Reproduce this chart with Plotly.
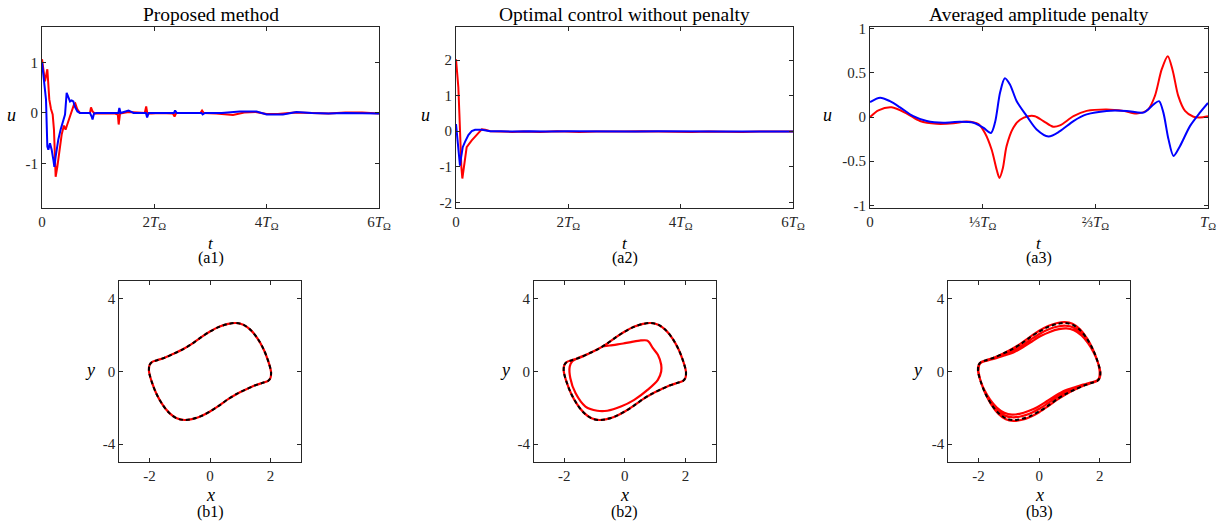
import plotly.graph_objects as go

W, H = 1225, 527
FONT = "Liberation Serif, DejaVu Serif, serif"
AX = "#262626"

# ---------------- data ----------------
# (a1) Proposed method, t in units of T_Omega
a1_red_t = [0.00, 0.053, 0.095, 0.13, 0.16, 0.19, 0.213, 0.231, 0.243, 0.273, 0.309, 0.35, 0.39, 0.42, 0.45,
            0.486, 0.528, 0.57, 0.593, 0.63, 0.676, 0.80, 0.855, 0.872, 0.90, 0.94, 1.10, 1.30, 1.35, 1.365,
            1.39, 1.54, 1.70, 1.83, 1.855, 1.875, 1.95, 2.10, 2.33, 2.36, 2.39, 2.60, 2.82, 2.85, 2.88, 3.10,
            3.40, 3.60, 3.80, 4.00, 4.20, 4.50, 4.80, 5.10, 5.40, 5.70, 6.00]
a1_red_u = [1.07, 0.63, 0.87, 0.27, 0.08, -0.03, -0.33, -0.93, -1.27, -1.07, -0.73, -0.43, -0.25, -0.33, -0.23,
            -0.12, 0.00, 0.17, 0.19, 0.07, 0.00, 0.00, 0.00, 0.11, 0.03, -0.01, -0.01, -0.01, -0.03, -0.23,
            -0.01, 0.02, 0.01, 0.00, 0.13, -0.01, -0.01, 0.00, -0.01, -0.07, 0.00, 0.00, 0.00, 0.05, 0.00, -0.01,
            -0.04, 0.01, 0.02, -0.02, -0.02, 0.01, 0.00, -0.01, 0.01, 0.01, -0.01]
a1_blue_t = [0.00, 0.036, 0.071, 0.095, 0.113, 0.142, 0.172, 0.202, 0.22, 0.243, 0.29, 0.332, 0.38, 0.41, 0.439,
             0.469, 0.499, 0.528, 0.558, 0.587, 0.63, 0.676, 0.855, 0.884, 0.90, 0.926, 0.973, 1.20, 1.36, 1.377,
             1.40, 1.54, 1.63, 1.85, 1.872, 1.90, 2.10, 2.35, 2.37, 2.40, 2.60, 2.84, 2.86, 2.90, 3.20, 3.52,
             3.82, 4.00, 4.29, 4.53, 4.80, 5.10, 5.40, 5.70, 6.00]
a1_blue_u = [1.01, 0.67, 0.27, -0.67, -0.73, -0.60, -0.73, -0.93, -1.07, -0.87, -0.53, -0.33, -0.17, -0.03, 0.40,
             0.33, 0.23, 0.25, 0.23, 0.12, 0.03, 0.00, 0.00, -0.07, -0.13, -0.01, 0.00, 0.00, 0.00, 0.10,
             0.00, 0.05, 0.00, 0.00, -0.09, 0.00, 0.00, 0.00, 0.05, 0.00, 0.00, 0.00, -0.03, 0.00, 0.00, 0.03,
             0.03, -0.03, -0.03, 0.02, 0.00, -0.01, 0.00, -0.01, -0.01]

# (a2) Optimal control without penalty
a2_red_t = [0.00, 0.042, 0.06, 0.075, 0.095, 0.113, 0.13, 0.16, 0.19, 0.28, 0.37, 0.43, 0.46, 0.52, 0.61, 0.80,
            1.00, 1.20, 1.50, 1.80, 2.00, 2.20, 2.50, 2.80, 3.00, 3.30, 3.60, 3.90, 4.20, 4.50, 4.80, 5.10,
            5.40, 5.70, 6.00]
a2_red_u = [2.02, 1.23, 0.50, -0.30, -1.00, -1.33, -1.15, -0.75, -0.45, -0.26, -0.12, 0.00, 0.05, 0.04, 0.00,
            -0.01, -0.02, -0.01, -0.02, 0.00, -0.01, -0.02, -0.01, -0.02, -0.01, 0.00, -0.01, -0.01, -0.02,
            -0.01, -0.02, -0.02, -0.01, 0.00, -0.01]
a2_blue_t = [0.00, 0.03, 0.06, 0.071, 0.085, 0.12, 0.16, 0.22, 0.28, 0.34, 0.46, 0.61, 0.80, 1.00, 1.30, 1.60,
             2.00, 2.40, 2.80, 3.20, 3.60, 4.00, 4.40, 4.80, 5.20, 5.60, 6.00]
a2_blue_u = [0.20, -0.40, -0.90, -0.97, -0.80, -0.45, -0.30, -0.11, 0.00, 0.04, 0.04, 0.00, 0.00, -0.01, 0.00,
             -0.01, 0.00, -0.01, 0.00, -0.01, 0.00, -0.01, 0.00, -0.01, -0.01, 0.00, -0.01]

# (a3) Averaged amplitude penalty, t as fraction of T_Omega
a3_red_t = [0.000, 0.025, 0.064, 0.109, 0.148, 0.197, 0.247, 0.286, 0.321, 0.340, 0.360, 0.375, 0.383, 0.393,
            0.404, 0.424, 0.444, 0.468, 0.488, 0.513, 0.542, 0.562, 0.602, 0.641, 0.700, 0.750, 0.789, 0.823,
            0.843, 0.863, 0.881, 0.896, 0.912, 0.932, 0.957, 0.976, 1.000]
a3_red_u = [0.00, 0.076, 0.11, 0.04, -0.045, -0.076, -0.07, -0.05, -0.08, -0.18, -0.37, -0.60, -0.69, -0.58,
            -0.33, -0.12, -0.03, 0.01, 0.01, -0.045, -0.11, -0.095, 0.01, 0.07, 0.087, 0.07, 0.04, 0.087,
            0.24, 0.54, 0.69, 0.52, 0.24, 0.07, 0.004, -0.004, 0.01]
a3_blue_t = [0.000, 0.030, 0.059, 0.089, 0.128, 0.168, 0.217, 0.266, 0.306, 0.335, 0.358, 0.370, 0.385, 0.399,
             0.414, 0.434, 0.464, 0.493, 0.528, 0.562, 0.602, 0.641, 0.700, 0.759, 0.809, 0.838, 0.855, 0.868,
             0.883, 0.898, 0.917, 0.947, 0.976, 1.000]
a3_blue_u = [0.17, 0.22, 0.18, 0.11, 0.01, -0.045, -0.064, -0.053, -0.064, -0.12, -0.18, -0.06, 0.28, 0.44,
             0.37, 0.18, 0.01, -0.14, -0.22, -0.16, -0.045, 0.03, 0.07, 0.07, 0.05, 0.14, 0.18, 0.05, -0.25,
             -0.44, -0.33, -0.10, 0.05, 0.16]

# limit cycle (black dashed reference)
cyc_x = [-2.02, -2.00, -1.92, -1.75, -1.50, -1.20, -0.90, -0.60, -0.30, 0.00, 0.30, 0.60, 0.85, 1.10, 1.35, 1.58,
         1.78, 1.92, 2.00, 2.02, 2.00, 1.92, 1.75, 1.50, 1.20, 0.90, 0.60, 0.30, 0.00, -0.30, -0.60, -0.85, -1.10,
         -1.35, -1.58, -1.78, -1.92, -2.00, -2.02]
cyc_y = [0.05, 0.35, 0.52, 0.62, 0.76, 0.98, 1.22, 1.52, 1.88, 2.20, 2.46, 2.62, 2.67, 2.58, 2.28, 1.80, 1.20,
         0.60, 0.15, -0.05, -0.35, -0.52, -0.62, -0.76, -0.98, -1.22, -1.52, -1.88, -2.20, -2.46, -2.62, -2.67,
         -2.58, -2.28, -1.80, -1.20, -0.60, -0.15, 0.05]

# (b1) controlled trajectory (stays on the cycle)
b1_x = [-2.02, -2.00, -1.92, -1.75, -1.50, -1.20, -0.90, -0.60, -0.30, 0.00, 0.30, 0.60, 0.85, 1.10, 1.35, 1.58,
        1.78, 1.92, 2.00, 2.02, 2.00, 1.92, 1.75, 1.50, 1.20, 0.90, 0.60, 0.30, 0.00, -0.30, -0.60, -0.85, -1.10,
        -1.35, -1.58, -1.78, -1.92, -2.00, -2.02]
b1_y = [0.05, 0.35, 0.52, 0.62, 0.76, 0.98, 1.22, 1.52, 1.88, 2.20, 2.46, 2.62, 2.67, 2.58, 2.28, 1.80, 1.20,
        0.60, 0.15, -0.05, -0.35, -0.52, -0.62, -0.76, -0.98, -1.22, -1.52, -1.88, -2.20, -2.46, -2.62, -2.67,
        -2.58, -2.28, -1.80, -1.20, -0.60, -0.15, 0.05]

# (b2) controlled trajectory: inner excursion, then back on the cycle
b2_x = [-0.74, -0.50, -0.24, 0.00, 0.20, 0.53, 0.73, 0.81, 0.92, 1.09, 1.20, 1.20, 1.09, 0.76, 0.31, -0.13,
        -0.58, -0.91, -1.30, -1.63, -1.80, -1.82, -1.74, -1.47, -1.20, -0.90, -0.60, -0.30, 0.00, 0.30, 0.60,
        0.85, 1.10, 1.35, 1.58, 1.78, 1.92, 2.00, 2.02, 2.00, 1.92, 1.75, 1.50, 1.20, 0.90, 0.60, 0.30, 0.00,
        -0.30, -0.60, -0.85, -1.10, -1.35, -1.58, -1.78, -1.92, -2.00, -2.02, -2.00, -1.92, -1.75, -1.50,
        -1.20, -0.90]
b2_y = [1.38, 1.43, 1.49, 1.56, 1.62, 1.71, 1.71, 1.60, 1.30, 0.92, 0.37, 0.00, -0.46, -1.00, -1.56, -1.93,
        -2.16, -2.16, -1.93, -1.19, -0.37, 0.28, 0.55, 0.80, 0.98, 1.22, 1.52, 1.88, 2.20, 2.46, 2.62, 2.67,
        2.58, 2.28, 1.80, 1.20, 0.60, 0.15, -0.05, -0.35, -0.52, -0.62, -0.76, -0.98, -1.22, -1.52, -1.88,
        -2.20, -2.46, -2.62, -2.67, -2.58, -2.28, -1.80, -1.20, -0.60, -0.15, 0.05, 0.35, 0.52, 0.62, 0.76,
        0.98, 1.22]

# (b3) controlled trajectory: several loops of slightly different size
b3_x = [-2.00, -1.98, -1.90, -1.72, -1.45, -1.15, -0.85, -0.55, -0.25, 0.05, 0.35, 0.65, 0.90, 1.15, 1.40, 1.62,
        1.80, 1.93, 1.99, 2.00, 1.98, 1.90, 1.72, 1.45, 1.15, 0.85, 0.55, 0.25, -0.05, -0.35, -0.65, -0.90,
        -1.15, -1.40, -1.62, -1.80, -1.93, -1.99,
        -2.01, -1.99, -1.91, -1.74, -1.48, -1.18, -0.88, -0.58, -0.28, 0.02, 0.32, 0.62, 0.88, 1.13, 1.38, 1.60,
        1.79, 1.92, 2.00, 2.01, 1.99, 1.91, 1.74, 1.48, 1.18, 0.88, 0.58, 0.28, -0.02, -0.32, -0.62, -0.88,
        -1.13, -1.38, -1.60, -1.79, -1.92, -2.00,
        -2.02, -2.00, -1.92, -1.75, -1.50, -1.20, -0.90, -0.60, -0.30, 0.00, 0.30, 0.60, 0.85, 1.10, 1.35, 1.58,
        1.78, 1.92, 2.00, 2.02, 2.00, 1.92, 1.75, 1.50, 1.20, 0.90, 0.60, 0.30, 0.00, -0.30, -0.60, -0.85,
        -1.10, -1.35, -1.58, -1.78, -1.92, -2.00, -2.02]
b3_y = [0.05, 0.35, 0.50, 0.60, 0.72, 0.88, 1.05, 1.32, 1.64, 1.95, 2.18, 2.33, 2.37, 2.27, 1.98, 1.55,
        1.05, 0.55, 0.12, -0.05, -0.35, -0.50, -0.60, -0.72, -0.88, -1.05, -1.32, -1.64, -1.95, -2.18, -2.33,
        -2.37, -2.27, -1.98, -1.55, -1.05, -0.55, -0.12,
        0.05, 0.35, 0.51, 0.61, 0.74, 0.93, 1.14, 1.42, 1.76, 2.08, 2.33, 2.48, 2.52, 2.43, 2.14, 1.68,
        1.12, 0.58, 0.13, -0.05, -0.35, -0.51, -0.61, -0.74, -0.93, -1.14, -1.42, -1.76, -2.08, -2.33, -2.48,
        -2.52, -2.43, -2.14, -1.68, -1.12, -0.58, -0.13,
        0.05, 0.35, 0.52, 0.62, 0.76, 0.98, 1.24, 1.55, 1.91, 2.24, 2.50, 2.67, 2.72, 2.63, 2.32, 1.82,
        1.20, 0.60, 0.15, -0.05, -0.35, -0.52, -0.62, -0.76, -0.98, -1.24, -1.55, -1.91, -2.24, -2.50, -2.67,
        -2.72, -2.63, -2.32, -1.82, -1.20, -0.60, -0.15, 0.05]

# tick labels
tick_T6_vals = [0, 2, 4, 6]
tick_T6_text = ["0", "2<i>T</i><sub>Ω</sub>", "4<i>T</i><sub>Ω</sub>", "6<i>T</i><sub>Ω</sub>"]
tick_T1_vals = [0, 1 / 3, 2 / 3, 1]
tick_T1_text = ["0", "⅓<i>T</i><sub>Ω</sub>", "⅔<i>T</i><sub>Ω</sub>", "<i>T</i><sub>Ω</sub>"]
a1_yt = [-1, 0, 1]
a2_yt = [-2, -1, 0, 1, 2]
a3_yt = [-1, -0.5, 0, 0.5, 1]
b_xt = [-2, 0, 2]
b_yt = [-4, 0, 4]

titles = ["Proposed method", "Optimal control without penalty", "Averaged amplitude penalty"]
top_tags = ["(a1)", "(a2)", "(a3)"]
bot_tags = ["(b1)", "(b2)", "(b3)"]


def lab(v):
    return "%g" % v


# ---------------- layout geometry (screen pixels) ----------------
top_box = [(42, 379), (456, 793), (870, 1208)]
top_y = (27, 208)
bot_box = [(119.3, 300.7), (534, 715.7), (948.3, 1130)]
bot_y = (280.7, 462.3)


def px2x(p):
    return p / W


def px2y(p):
    return 1 - p / H


def xd(a, b):
    return [px2x(a), px2x(b)]


def yd(t, b):
    return [px2y(b), px2y(t)]


fig = go.Figure()

RED = "#FF0000"
BLUE = "#0000FF"

top_data = [
    (a1_red_t, a1_red_u, a1_blue_t, a1_blue_u, "linear"),
    (a2_red_t, a2_red_u, a2_blue_t, a2_blue_u, "linear"),
    (a3_red_t, a3_red_u, a3_blue_t, a3_blue_u, "spline"),
]
for i, (rt, ru, bt, bu, shp) in enumerate(top_data):
    xa = "x" if i == 0 else "x%d" % (i + 1)
    ya = "y" if i == 0 else "y%d" % (i + 1)
    fig.add_trace(go.Scatter(x=rt, y=ru, mode="lines", xaxis=xa, yaxis=ya,
                             line=dict(color=RED, width=2, shape=shp, smoothing=0.8), showlegend=False))
    fig.add_trace(go.Scatter(x=bt, y=bu, mode="lines", xaxis=xa, yaxis=ya,
                             line=dict(color=BLUE, width=2, shape=shp, smoothing=0.8), showlegend=False))

bot_red = [(b1_x, b1_y), (b2_x, b2_y), (b3_x, b3_y)]
for i, (bx, by) in enumerate(bot_red):
    xa = "x%d" % (i + 4)
    ya = "y%d" % (i + 4)
    fig.add_trace(go.Scatter(x=bx, y=by, mode="lines", xaxis=xa, yaxis=ya,
                             line=dict(color=RED, width=2.2, shape="spline", smoothing=0.9), showlegend=False))
    fig.add_trace(go.Scatter(x=cyc_x, y=cyc_y, mode="lines", xaxis=xa, yaxis=ya,
                             line=dict(color="black", width=2, dash="4px,3px", shape="spline", smoothing=0.9),
                             showlegend=False))


def axis(dom, rng, tv, tt, anchor):
    return dict(domain=dom, range=rng, tickvals=tv, ticktext=tt, anchor=anchor,
                showline=True, linecolor=AX, linewidth=1, mirror="allticks",
                ticks="inside", ticklen=4, tickcolor=AX, tickwidth=1,
                showgrid=False, zeroline=False, fixedrange=True, automargin=False,
                tickfont=dict(family=FONT, size=15, color=AX))


layout = dict(width=W, height=H, margin=dict(l=0, r=0, t=0, b=0, autoexpand=False),
              paper_bgcolor="white", plot_bgcolor="white", showlegend=False, hovermode=False)

yranges = [[-1.89, 1.71], [-2.16, 2.93], [-1.03, 1.02]]
yticks = [a1_yt, a2_yt, a3_yt]
for i in range(3):
    xk = "xaxis" if i == 0 else "xaxis%d" % (i + 1)
    yk = "yaxis" if i == 0 else "yaxis%d" % (i + 1)
    xn = "x" if i == 0 else "x%d" % (i + 1)
    yn = "y" if i == 0 else "y%d" % (i + 1)
    if i < 2:
        layout[xk] = axis(xd(*top_box[i]), [0, 6], tick_T6_vals, tick_T6_text, yn)
    else:
        layout[xk] = axis(xd(*top_box[i]), [0, 1], tick_T1_vals, tick_T1_text, yn)
    layout[yk] = axis(yd(*top_y), yranges[i], yticks[i], [lab(v) for v in yticks[i]], xn)

for i in range(3):
    k = i + 4
    layout["xaxis%d" % k] = axis(xd(*bot_box[i]), [-3, 3], b_xt, [lab(v) for v in b_xt], "y%d" % k)
    layout["yaxis%d" % k] = axis(yd(*bot_y), [-5, 5], b_yt, [lab(v) for v in b_yt], "x%d" % k)

anns = []


def ann(text, px, py, size, italic=False, xanchor="center"):
    t = "<i>%s</i>" % text if italic else text
    anns.append(dict(text=t, x=px2x(px), y=px2y(py), xref="paper", yref="paper",
                     xanchor=xanchor, yanchor="middle", showarrow=False,
                     font=dict(family=FONT, size=size, color="#000000")))


ylab_x_top = [11, 425, 827]
for i in range(3):
    cx = (top_box[i][0] + top_box[i][1]) / 2
    ann(titles[i], cx, 14, 19.5)
    ann("t", cx, 243, 17, italic=True)
    ann(top_tags[i], cx, 258, 16)
    ann("u", ylab_x_top[i], 115, 18, italic=True)

ylab_x_bot = [90, 505, 917]
for i in range(3):
    cx = (bot_box[i][0] + bot_box[i][1]) / 2
    ann("x", cx, 495, 18, italic=True)
    ann(bot_tags[i], cx, 512, 16)
    ann("y", ylab_x_bot[i], 370, 18, italic=True)

layout["annotations"] = anns
fig.update_layout(**layout)
fig.write_html("out.html", config={"displayModeBar": False},
               post_script="document.body.style.margin='0';document.body.style.overflow='hidden';")
